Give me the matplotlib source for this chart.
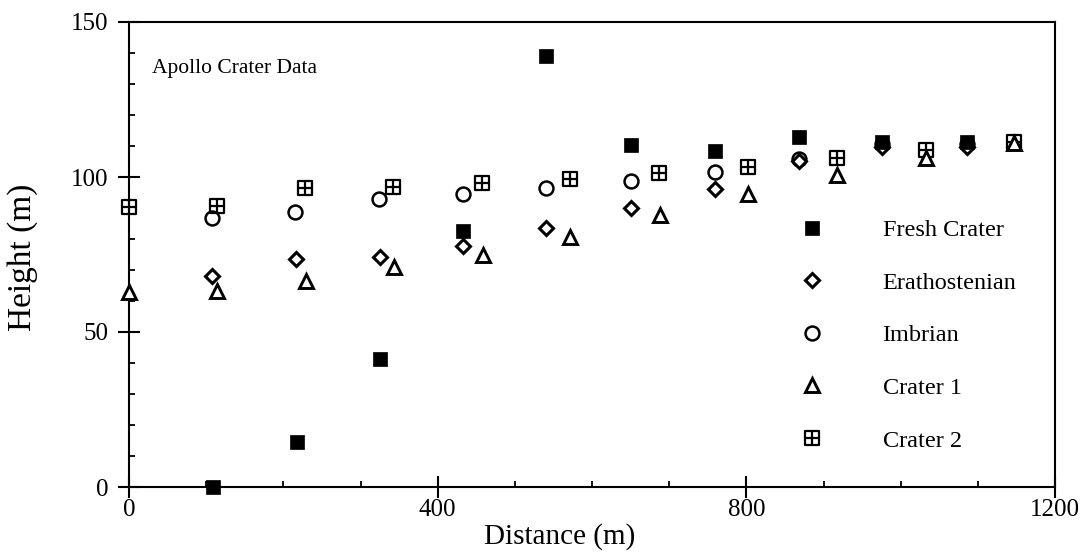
import matplotlib
matplotlib.use("Agg")
import matplotlib.pyplot as plt
from matplotlib.path import Path
from matplotlib.ticker import MultipleLocator

plt.rcParams["font.family"] = ["Liberation Serif", "DejaVu Serif"]

# data
fresh_x = [109, 218, 325, 433, 540, 650, 759, 868, 976, 1086]
fresh_y = [0, 14.5, 41.3, 82.6, 139, 110.3, 108.4, 113, 111.3, 111.3]

erath_x = [107, 216, 325, 433, 541, 650, 760, 868, 976, 1086]
erath_y = [68, 73.5, 74.2, 77.7, 83.5, 90, 96.1, 105.2, 109.8, 109.8]

imbr_x = [107, 215, 324, 433, 541, 650, 759, 868, 976, 1086]
imbr_y = [86.8, 88.7, 92.9, 94.5, 96.5, 98.7, 101.6, 105.8, 110.5, 110.5]

c1_x = [0, 114, 229, 343, 459, 571, 688, 802, 917, 1033, 1147]
c1_y = [63, 63.2, 66.5, 71, 74.8, 80.6, 87.7, 94.5, 100.6, 106, 111]

c2_x = [0, 114, 228, 342, 457, 571, 687, 802, 917, 1033, 1147]
c2_y = [90.3, 90.6, 96.5, 96.8, 98, 99.4, 101.3, 103.2, 106, 108.7, 111.3]

labels = ["Fresh Crater", "Erathostenian", "Imbrian", "Crater 1", "Crater 2"]

# boxed plus marker for Crater 2
boxplus = Path(
    [(-1, -1), (1, -1), (1, 1), (-1, 1), (-1, -1), (0, -1), (0, 1), (-1, 0), (1, 0)],
    [Path.MOVETO, Path.LINETO, Path.LINETO, Path.LINETO, Path.CLOSEPOLY,
     Path.MOVETO, Path.LINETO, Path.MOVETO, Path.LINETO],
)

fig = plt.figure(figsize=(10.81, 5.56), dpi=100)
ax = fig.add_axes([129 / 1081, 1 - 487 / 556, 926 / 1081, 465 / 556])

kw = dict(linestyle="none", color="black", clip_on=False)
ax.plot(c2_x, c2_y, marker=boxplus, ms=10.5, mfc="white", mew=1.6, label=labels[4], zorder=3, **kw)
ax.plot(c1_x, c1_y, marker="^", ms=10.5, mfc="white", mew=2.1, label=labels[3], zorder=4, **kw)
ax.plot(imbr_x, imbr_y, marker="o", ms=10, mfc="none", mew=1.8, label=labels[2], zorder=5, **kw)
ax.plot(erath_x, erath_y, marker="D", ms=7, mfc="white", mew=2.2, label=labels[1], zorder=6, **kw)
ax.plot(fresh_x, fresh_y, marker="s", ms=9.5, mfc="black", mew=0.5, label=labels[0], zorder=7, **kw)

ax.set_xlim(0, 1200)
ax.set_ylim(0, 150)
ax.xaxis.set_major_locator(MultipleLocator(400))
ax.xaxis.set_minor_locator(MultipleLocator(100))
ax.yaxis.set_major_locator(MultipleLocator(50))
ax.yaxis.set_minor_locator(MultipleLocator(10))
ax.tick_params(which="major", direction="inout", length=16, width=1.5, labelsize=18, pad=1)
ax.tick_params(which="minor", direction="in", length=4, width=1.3)
ax.tick_params(axis="y", which="major", pad=7)
for s in ax.spines.values():
    s.set_linewidth(1.5)

ax.set_xlabel("Distance (m)", fontsize=21)
ax.xaxis.set_label_coords((560 - 129) / 926, -0.078)
ax.set_ylabel("Height (m)", fontsize=24)
ax.yaxis.set_label_coords(-0.098, 0.495)

ax.text(0.025, 0.901, "Apollo Crater Data", transform=ax.transAxes, fontsize=15.5, va="center", ha="left")

handles, labs = ax.get_legend_handles_labels()
order = [labs.index(l) for l in labels]
ax.legend([handles[i] for i in order], [labs[i] for i in order],
          loc="upper left", bbox_to_anchor=(800 / 1081, 1 - 219 / 556),
          bbox_transform=fig.transFigure, frameon=False, fontsize=17.5,
          handlelength=1.0, handletextpad=2.4, labelspacing=1.26,
          borderpad=0, borderaxespad=0, numpoints=1)

fig.savefig("out.png", dpi=100, facecolor="white")
